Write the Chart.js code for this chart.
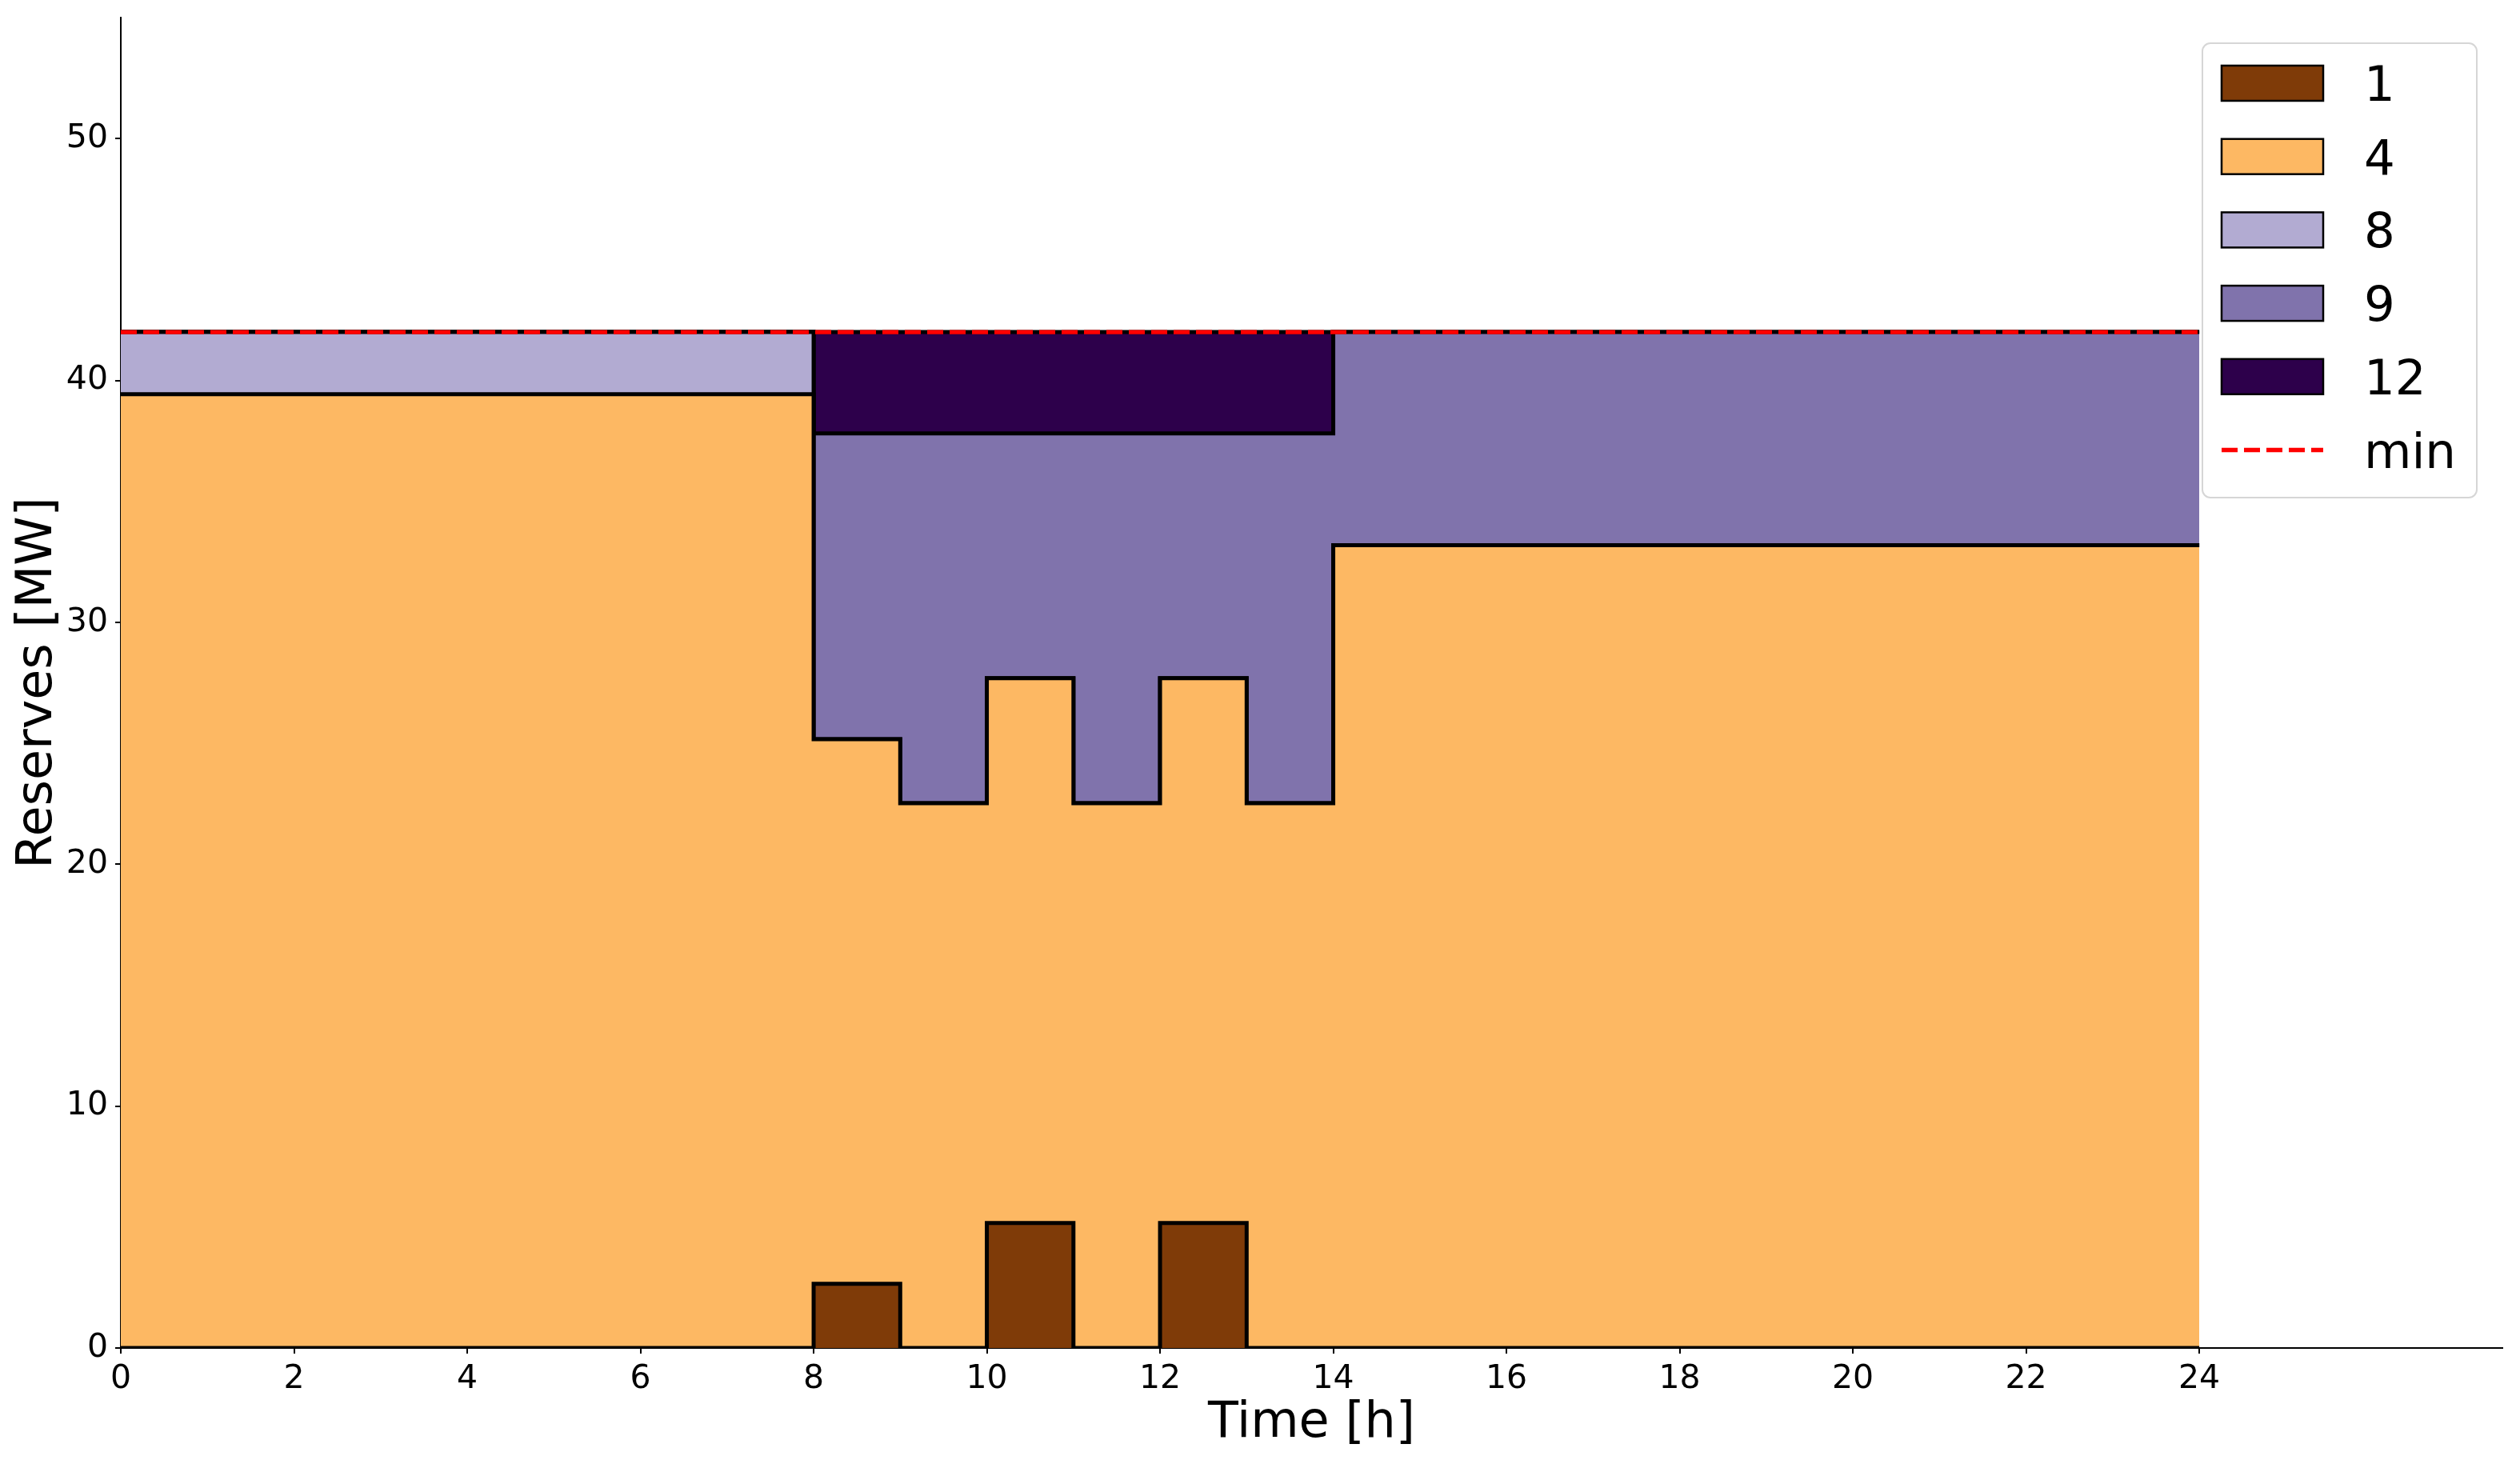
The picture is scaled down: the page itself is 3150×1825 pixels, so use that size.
<!DOCTYPE html>
<html><head><meta charset="utf-8">
<script src="https://cdn.jsdelivr.net/npm/chart.js@4.4.1/dist/chart.umd.min.js"></script>
<style>html,body{margin:0;padding:0;background:#fff;} canvas{display:block;}</style>
</head><body>
<canvas id="c" width="3150" height="1825"></canvas>
<script>
// ---- data ----
const hours = [0,1,2,3,4,5,6,7,8,9,10,11,12,13,14,15,16,17,18,19,20,21,22,23,24];
const unit1  = [0,0,0,0,0,0,0,0,2.65,0,5.17,0,5.17,0,0,0,0,0,0,0,0,0,0,0,0];
const unit4  = [39.43,39.43,39.43,39.43,39.43,39.43,39.43,39.43,22.52,22.52,22.52,22.52,22.52,22.52,33.19,33.19,33.19,33.19,33.19,33.19,33.19,33.19,33.19,33.19,33.19];
const unit8  = [2.57,2.57,2.57,2.57,2.57,2.57,2.57,2.57,0,0,0,0,0,0,0,0,0,0,0,0,0,0,0,0,0];
const unit9  = [0,0,0,0,0,0,0,0,12.64,15.29,10.12,15.29,10.12,15.29,8.81,8.81,8.81,8.81,8.81,8.81,8.81,8.81,8.81,8.81,8.81];
const unit12 = [0,0,0,0,0,0,0,0,4.19,4.19,4.19,4.19,4.19,4.19,0,0,0,0,0,0,0,0,0,0,0];
const minReserve = [42,42,42,42,42,42,42,42,42,42,42,42,42,42,42,42,42,42,42,42,42,42,42,42,42];
const seriesLabels = ['1','4','8','9','12'];
const minLabel = 'min';
const xTicks = [0,2,4,6,8,10,12,14,16,18,20,22,24];
const yTicks = [0,10,20,30,40,50];
const xTitle = 'Time [h]';
const yTitle = 'Reserves [MW]';

// ---- styles ----
const colors = ['#7f3b08','#fdb863','#b2abd2','#8073ac','#2d004b'];
const FONT = "'DejaVu Sans', sans-serif";

const toPts = arr => hours.map((h,i)=>({x:h,y:arr[i]}));
const seriesData = [unit1, unit4, unit8, unit9, unit12];

const datasets = seriesData.map((arr,i)=>({
  label: seriesLabels[i],
  data: toPts(arr),
  backgroundColor: colors[i],
  borderColor: '#000',
  borderWidth: 5,
  stepped: 'before',
  pointRadius: 0,
  fill: i === 0 ? 'origin' : '-1',
  stack: 'res',
  order: 1
}));
datasets.push({
  label: minLabel,
  data: toPts(minReserve),
  borderColor: '#ff0000',
  borderWidth: 5.3,
  borderDash: [20,8],
  borderCapStyle: 'butt',
  pointRadius: 0,
  fill: false,
  stack: 'min',
  order: 0
});

const legendPlugin = {
  id: 'mplLegend',
  afterDraw(chart) {
    const ctx = chart.ctx, a = chart.chartArea;
    const bw = 343, bh = 568;
    const bx = a.right - 32 - bw, by = a.top + 32;
    ctx.save();
    ctx.beginPath();
    ctx.roundRect(bx, by, bw, bh, 10);
    ctx.fillStyle = 'rgba(255,255,255,0.8)';
    ctx.fill();
    ctx.strokeStyle = '#d6d6d6';
    ctx.lineWidth = 2;
    ctx.stroke();
    const rowH = 91.7;
    const px = bx + 24, pw = 127, ph = 44;
    ctx.font = '61px ' + FONT;
    ctx.textBaseline = 'alphabetic';
    ctx.textAlign = 'left';
    chart.data.datasets.forEach((ds, i) => {
      const cy = by + 50 + i * rowH;
      if (ds.fill === false) {
        ctx.beginPath();
        ctx.setLineDash([20,8]);
        ctx.strokeStyle = ds.borderColor;
        ctx.lineWidth = 5.3;
        ctx.moveTo(px, cy); ctx.lineTo(px + pw, cy);
        ctx.stroke();
        ctx.setLineDash([]);
      } else {
        ctx.fillStyle = ds.backgroundColor;
        ctx.fillRect(px, cy - ph/2, pw, ph);
        ctx.strokeStyle = '#000';
        ctx.lineWidth = 2.5;
        ctx.strokeRect(px, cy - ph/2, pw, ph);
      }
      ctx.fillStyle = '#000';
      ctx.fillText(ds.label, bx + 202, cy + 22);
    });
    ctx.restore();
  }
};

new Chart(document.getElementById('c'), {
  type: 'line',
  data: { datasets },
  plugins: [legendPlugin],
  options: {
    responsive: false,
    animation: false,
    devicePixelRatio: 1,
    layout: { padding: { top: 22, right: 22, left: 0, bottom: 0 } },
    plugins: { legend: { display: false }, tooltip: { enabled: false } },
    scales: {
      x: {
        type: 'linear', min: 0, max: 27.5,
        afterBuildTicks: s => { s.ticks = xTicks.map(v=>({value:v})); },
        afterFit: s => { s.height = 140; s.paddingLeft = 0; s.paddingRight = 0; },
        ticks: { color: '#000', font: { family: FONT, size: 41 }, padding: 8, maxRotation: 0, autoSkip: false },
        grid: { display: true, drawOnChartArea: false, drawTicks: true, tickLength: 7, color: '#000', lineWidth: 2 },
        border: { display: true, color: '#000', width: 2 },
        title: { display: true, text: xTitle, color: '#000', font: { family: FONT, size: 62 }, padding: { top: 0, bottom: 8 } }
      },
      y: {
        type: 'linear', min: 0, max: 55, stacked: true,
        afterBuildTicks: s => { s.ticks = yTicks.map(v=>({value:v})); },
        afterFit: s => { s.width = 151; s.paddingTop = 0; s.paddingBottom = 0; },
        ticks: { color: '#000', font: { family: FONT, size: 41 }, padding: 9 },
        grid: { display: true, drawOnChartArea: false, drawTicks: true, tickLength: 7, color: '#000', lineWidth: 2 },
        border: { display: true, color: '#000', width: 2 },
        title: { display: true, text: yTitle, color: '#000', font: { family: FONT, size: 62 }, padding: { top: 11, bottom: 0 } }
      }
    }
  }
});
</script>
</body></html>
